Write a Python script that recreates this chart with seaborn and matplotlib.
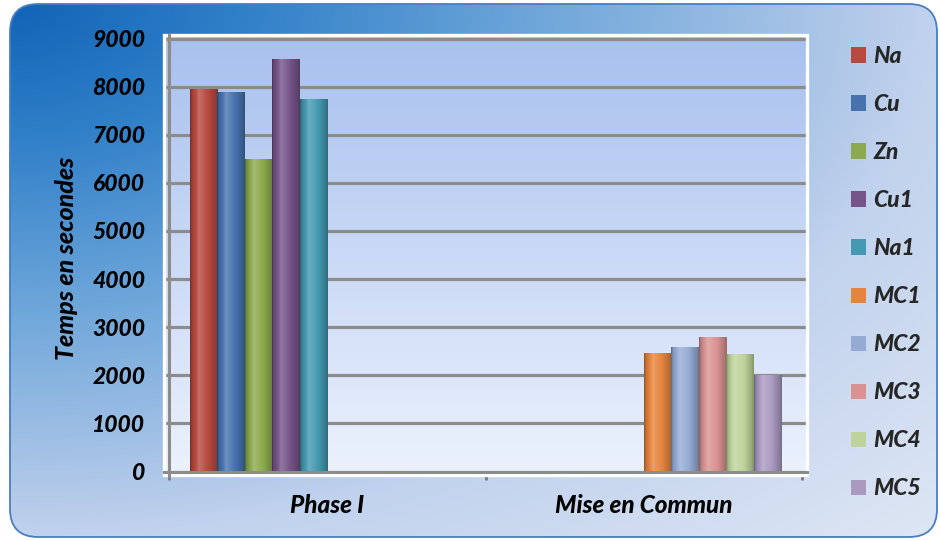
import numpy as np
import pandas as pd
import matplotlib
matplotlib.use("Agg")
import matplotlib.pyplot as plt
import seaborn as sns
from matplotlib.colors import to_rgb
from matplotlib.patches import FancyBboxPatch, Rectangle

# ---- data -------------------------------------------------------------
groups = ["Phase I", "Mise en Commun"]
phase_series = ["Na", "Cu", "Zn", "Cu1", "Na1"]
phase_values = [7950, 7880, 6490, 8570, 7750]
commun_series = ["MC1", "MC2", "MC3", "MC4", "MC5"]
commun_values = [2460, 2590, 2800, 2450, 2010]
series_colors = ["#b8493f", "#4673ae", "#8caa4d", "#765489", "#4499b1",
                 "#e5843d", "#96abd4", "#d99292", "#bed39b", "#aa9ac2"]
y_ticks = [0, 1000, 2000, 3000, 4000, 5000, 6000, 7000, 8000, 9000]

W, H = 940, 540
GRID = "#8c8c8c"
FONT = ["Lato", "DejaVu Sans"]
WEIGHT = "black"

sns.set_theme(style="white")
plt.rcParams["font.family"] = FONT
plt.rcParams["font.weight"] = WEIGHT
plt.rcParams["font.style"] = "italic"

df = pd.DataFrame({
    "Groupe": [groups[0]] * len(phase_series) + [groups[1]] * len(commun_series),
    "Série": phase_series + commun_series,
    "Temps": phase_values + commun_values,
})
hue_order = phase_series + commun_series
palette = dict(zip(hue_order, series_colors))

fig = plt.figure(figsize=(W / 100, H / 100), dpi=100)
fig.patch.set_facecolor("white")

# ---- background: rounded panel with a diagonal blue gradient -----------
bg = fig.add_axes([0, 0, 1, 1])
bg.set_zorder(-1)
bg.set_xlim(0, W)
bg.set_ylim(H, 0)
bg.axis("off")

yy, xx = np.mgrid[0:H:2, 0:W:2]
d = np.sqrt((xx / W) ** 2 + (yy / H) ** 2)
stops_d = [0.0, 0.25, 0.55, 0.93, 1.0, 1.42]
stops_c = ["#1062b6", "#2f7fc8", "#6aa4d9", "#b6cbea", "#c2d3ee", "#dfe7f4"]
rgb = np.stack([np.interp(d, stops_d, [to_rgb(c)[i] for c in stops_c])
                for i in range(3)], axis=-1)
panel = FancyBboxPatch((10, 4), 927, 533,
                       boxstyle="round,pad=0,rounding_size=28",
                       fc="none", ec="#4a7dc2", lw=1.3, zorder=3)
bg.add_patch(panel)
im = bg.imshow(rgb, extent=[0, W, H, 0], aspect="auto",
               interpolation="bilinear", zorder=1)
im.set_clip_path(panel)

# plot-area fill: light blue at the top fading to near white
pa = np.linspace(0, 1, 200)[:, None]
top, bot = np.array(to_rgb("#a8c0ee")), np.array(to_rgb("#ecf2fd"))
pa_rgb = (top + (bot - top) * pa)[:, None, :].repeat(2, axis=1)
bg.imshow(pa_rgb, extent=[164, 807, 475, 35], aspect="auto",
          interpolation="bilinear", zorder=2)

# ---- main chart ---------------------------------------------------------
ax = fig.add_axes([164 / W, 1 - 475 / H, 643 / W, 440 / H])
ax.set_facecolor("none")

sns.barplot(data=df, x="Groupe", y="Temps", hue="Série",
            order=groups, hue_order=hue_order, palette=palette,
            width=0.87, saturation=1, errorbar=None, dodge=True,
            linewidth=0, ax=ax)

# cylinder-like shading across each bar
prof_x = [0.0, 0.06, 0.32, 0.65, 0.92, 1.0]
prof_f = [0.62, 0.85, 1.13, 1.0, 0.8, 0.7]
fx = np.interp(np.linspace(0, 1, 64), prof_x, prof_f)
for p in list(ax.patches):
    x0, w, h = p.get_x(), p.get_width(), p.get_height()
    if not np.isfinite(h) or h <= 0:
        continue
    base = np.array(to_rgb(p.get_facecolor()))
    cols = np.empty((64, 3))
    for i, f in enumerate(fx):
        if f <= 1:
            cols[i] = base * f
        else:
            cols[i] = base + (1 - base) * (f - 1) * 1.6
    cols = np.clip(cols, 0, 1)
    ax.imshow(cols[None, :, :], extent=[x0, x0 + w, 0, h], aspect="auto",
              interpolation="bilinear", zorder=2)

ax.set_xlim(-0.5 - 5 / 316.5, 1.5 + 5 / 316.5)
ax.set_ylim(-71, 9073)
ax.set_yticks(y_ticks)
ax.set_yticklabels([str(v) for v in y_ticks])
ax.set_xticks([0, 1])
ax.set_xticklabels(groups)
ax.set_xticks([-0.5, 0.5, 1.5], minor=True)
ax.set_xlabel("")
ax.set_ylabel("")

ax.yaxis.grid(True, color=GRID, lw=2.3)
ax.set_axisbelow(True)

for s in ["top", "right"]:
    ax.spines[s].set_visible(False)
ax.spines["left"].set_position(("data", -0.5))
ax.spines["bottom"].set_position(("data", 0))
for s in ["left", "bottom"]:
    ax.spines[s].set_color(GRID)
    ax.spines[s].set_linewidth(2.2)
    ax.spines[s].set_zorder(3)

ax.tick_params(axis="y", direction="out", length=5, width=1.6, color=GRID,
               pad=12, labelsize=16.5, labelcolor="black")
ax.tick_params(axis="x", which="major", length=0, pad=16, labelsize=17.5,
               labelcolor="black")
ax.tick_params(axis="x", which="minor", direction="out", length=6,
               width=2, color="#7a7a7a", bottom=True)

# white frame around the plot area
ax.add_patch(Rectangle((0, 0), 1, 1, transform=ax.transAxes, fill=False,
                       ec="white", lw=2.4, zorder=2.5, clip_on=False))

fig.text(66 / W, 1 - 258 / H, "Temps en secondes", rotation=90,
         ha="center", va="center", fontsize=18, color="black")

sns.move_legend(ax, "upper left", bbox_to_anchor=(1.068, 0.975),
                frameon=False, title=None,
                prop={"family": FONT, "weight": WEIGHT,
                      "style": "italic", "size": 16.5},
                handlelength=0.65, handleheight=0.65, labelspacing=1.18,
                handletextpad=0.35, borderpad=0, borderaxespad=0)

fig.savefig("out.png", dpi=100)
